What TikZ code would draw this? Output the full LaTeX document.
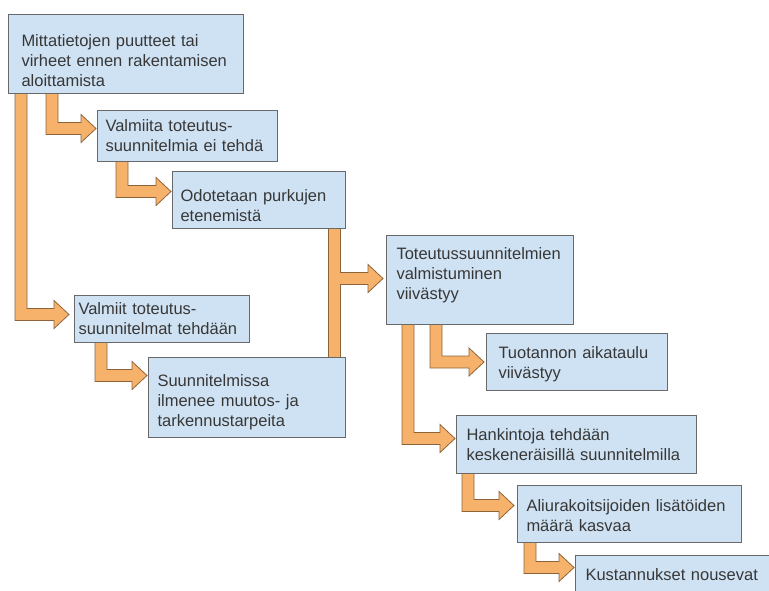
\documentclass[tikz,border=0pt]{standalone}
\usepackage{fontspec}
\setmainfont{Liberation Sans}
\usepackage{tikz}
\usetikzlibrary{calc}
\usetikzlibrary{backgrounds}
\usepackage{xcolor}

\definecolor{boxblue}{RGB}{207,226,243}
\definecolor{boxgray}{RGB}{105,105,105}
\definecolor{textgray}{RGB}{55,55,55}
\definecolor{arrorange}{RGB}{246,178,107}
\definecolor{arrbrown}{RGB}{140,100,60}

\hyphenpenalty=10000
\exhyphenpenalty=10000

% invisible strut to push the text down (#1) or up (#2)
\newcommand{\down}[1]{\rule{0pt}{#1}}
\newcommand{\up}[1]{\rule[-#1]{0pt}{#1}}

% fat elbow arrow: source node, x offset on its bottom, target point
\newcommand{\fatarrow}[3]{%
	\filldraw[fatarr] let \p1=([xshift=#2]#1.south west), \p2=#3 in
	(\x1-6pt,\y1+3pt) -- (\x1-6pt,\y2-6pt) -- (\x2-15pt,\y2-6pt)
	-- (\x2-15pt,\y2-14pt) -- (\x2,\y2) -- (\x2-15pt,\y2+14pt)
	-- (\x2-15pt,\y2+6pt) -- (\x1+6pt,\y2+6pt) -- (\x1+6pt,\y1+3pt) -- cycle;}

\begin{document}
\begin{tikzpicture}[x=1pt,y=-1pt]
		\tikzstyle{box} = [draw=boxgray, line width=1pt, fill=boxblue, anchor=north west,
		align=left, text=textgray, inner ysep=2pt, font=\fontsize{16.5}{20}\selectfont]
		\tikzstyle{fatarr} = [fill=arrorange, draw=arrbrown, line width=0.8pt, line join=miter]
		\useasboundingbox (0,0) rectangle (769,591);
		
		\node[box, inner xsep=13pt, text width=209pt, minimum height=79pt] (a) at (8,14)
		{\down{25pt}Mittatietojen puutteet tai\\virheet ennen rakentamisen\\aloittamista};
		\node[box, inner xsep=8pt, text width=164pt, minimum height=51pt] (b) at (97,110)
		{Valmiita toteutus-\\suunnitelmia ei tehdä};
		\node[box, inner xsep=8pt, text width=157pt, minimum height=57pt] (c) at (172,171)
		{\down{23.5pt}Odotetaan purkujen\\etenemistä};
		\node[box, inner xsep=10pt, text width=167pt, minimum height=89pt] (d) at (386,235)
		{Toteutussuunnitelmien\\valmistuminen\\viivästyy\up{12.5pt}};
		\node[box, inner xsep=4pt, text width=167pt, minimum height=47pt] (e) at (74,295)
		{Valmiit toteutus-\\suunnitelmat tehdään};
		\node[box, inner xsep=9pt, text width=179pt, minimum height=80pt] (f) at (148,357)
		{\down{20.5pt}Suunnitelmissa\\ilmenee muutos- ja\\tarkennustarpeita};
		\node[box, inner xsep=12pt, text width=157pt, minimum height=57pt] (g) at (486,333)
		{\down{16.5pt}Tuotannon aikataulu\\viivästyy};
		\node[box, inner xsep=10pt, text width=220pt, minimum height=58pt] (h) at (456,415)
		{Hankintoja tehdään\\keskeneräisillä suunnitelmilla};
		\node[box, inner xsep=9pt, text width=206pt, minimum height=57pt] (i) at (517,485)
		{\down{15.5pt}Aliurakoitsijoiden lisätöiden\\määrä kasvaa};
		\node[box, inner xsep=10pt, text width=175pt, minimum height=38pt] (j) at (575,555)
		{Kustannukset nousevat};
		
		\begin{scope}[on background layer]
			\fatarrow{a}{44pt}{([xshift=-1pt,yshift=7.5pt]b.west)}
			\fatarrow{a}{13pt}{([xshift=-5pt,yshift=4.5pt]e.west)}
			\fatarrow{b}{25pt}{([xshift=-1pt,yshift=8.5pt]c.west)}
			\fatarrow{e}{27pt}{([xshift=-1pt,yshift=22pt]f.west)}
			\fatarrow{d}{50pt}{([xshift=-2pt]g.west)}
			\fatarrow{d}{22pt}{([xshift=-1pt,yshift=6pt]h.west)}
			\fatarrow{h}{12pt}{([xshift=-3pt,yshift=8.5pt]i.west)}
			\fatarrow{i}{13pt}{([xshift=-1pt,yshift=7pt]j.west)}
			
			% trunk c -> f with branch to d
			\filldraw[fatarr] let \p1=([xshift=162pt]c.south west), \p2=(f.north) in
			(\x1-6pt,\y1+3pt) rectangle (\x1+6pt,\y2-3pt);
			\fill[arrorange] let \p1=([xshift=162pt]c.south west), \p2=([xshift=-3pt,yshift=1.5pt]d.west) in
			(\x1+5pt,\y2+6pt) -- (\x2-15pt,\y2+6pt) -- (\x2-15pt,\y2+14pt) -- (\x2,\y2)
			-- (\x2-15pt,\y2-14pt) -- (\x2-15pt,\y2-6pt) -- (\x1+5pt,\y2-6pt) -- cycle;
			\draw[fatarr, fill=none] let \p1=([xshift=162pt]c.south west), \p2=([xshift=-3pt,yshift=1.5pt]d.west) in
			(\x1+6pt,\y2+6pt) -- (\x2-15pt,\y2+6pt) -- (\x2-15pt,\y2+14pt) -- (\x2,\y2)
			-- (\x2-15pt,\y2-14pt) -- (\x2-15pt,\y2-6pt) -- (\x1+6pt,\y2-6pt);
		\end{scope}

		\end{tikzpicture}
\end{document}
